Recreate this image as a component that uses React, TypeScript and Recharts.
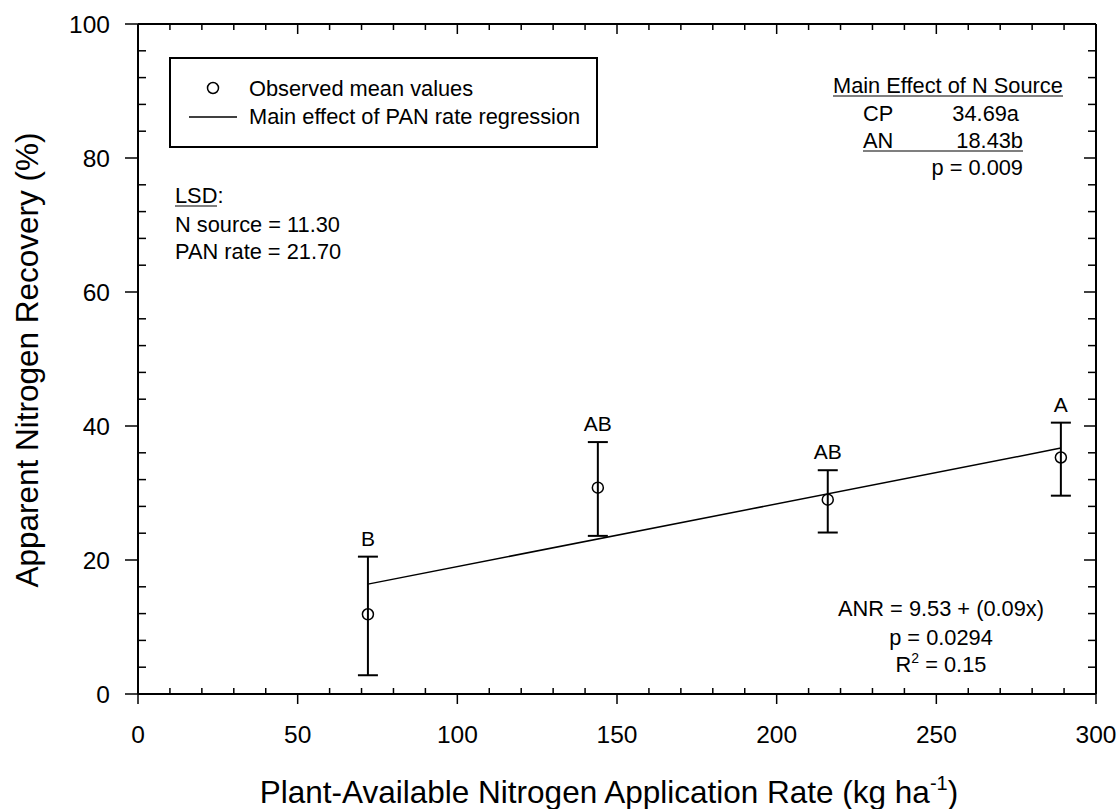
import React from "react";
import { ComposedChart, Scatter, ErrorBar, XAxis, YAxis, Label } from "recharts";

// PAN rate treatments and observed ANR (%) with error bar ends
const rates = [72, 144, 216, 289];
const meanANR = [11.9, 30.8, 29.0, 35.3];
const upperANR = [20.5, 37.6, 33.4, 40.5];
const lowerANR = [2.8, 23.6, 24.1, 29.6];
const groupLetters = ["B", "AB", "AB", "A"];

// fitted main effect of PAN rate, drawn over the tested range
const regRates = [72, 289];
const regANR = [16.4, 36.7];

const xTicks = [
  0, 10, 20, 30, 40, 50, 60, 70, 80, 90, 100, 110, 120, 130, 140, 150, 160,
  170, 180, 190, 200, 210, 220, 230, 240, 250, 260, 270, 280, 290, 300,
];
const yTicks = [
  0, 4, 8, 12, 16, 20, 24, 28, 32, 36, 40, 44, 48, 52, 56, 60, 64, 68, 72, 76,
  80, 84, 88, 92, 96, 100,
];

const FONT = "'Liberation Sans', Arial, sans-serif";

const meanData = rates.map((x, i) => ({
  x,
  y: meanANR[i],
  err: [meanANR[i] - lowerANR[i], upperANR[i] - meanANR[i]],
}));
const letterData = rates.map((x, i) => ({
  x,
  y: upperANR[i],
  letter: groupLetters[i],
}));
const regData = regRates.map((x, i) => ({ x, y: regANR[i] }));

const BottomTick = ({ x, y, payload }: any) => {
  const major = payload.value % 50 === 0;
  return (
    <g>
      <line x1={x} x2={x} y1={y} y2={major ? y + 10 : y - 6} stroke="#000" strokeWidth={1.5} />
      {major && (
        <text x={x} y={y + 49} textAnchor="middle" fontSize={24.5} fontFamily={FONT} fill="#000">
          {payload.value}
        </text>
      )}
    </g>
  );
};

const LeftTick = ({ x, y, payload }: any) => {
  const major = payload.value % 20 === 0;
  return (
    <g>
      <line x1={major ? x - 13 : x} x2={major ? x : x + 8} y1={y} y2={y} stroke="#000" strokeWidth={1.5} />
      {major && (
        <text x={x - 28} y={y + 8.5} textAnchor="end" fontSize={24.5} fontFamily={FONT} fill="#000">
          {payload.value}
        </text>
      )}
    </g>
  );
};

// frame ticks on top and right point into the plot
const TopTick = ({ x, y, payload }: any) => {
  const len = payload.value % 50 === 0 ? 10 : 6;
  return <line x1={x} x2={x} y1={y} y2={y + len} stroke="#000" strokeWidth={1.5} />;
};

const RightTick = ({ x, y, payload }: any) => {
  const len = payload.value % 20 === 0 ? 12 : 8;
  return <line x1={x - len} x2={x} y1={y} y2={y} stroke="#000" strokeWidth={1.5} />;
};

const OpenCircle = ({ cx, cy }: any) => (
  <circle cx={cx} cy={cy} r={5.5} fill="none" stroke="#000" strokeWidth={1.5} />
);

const LetterMark = ({ cx, cy, payload }: any) => (
  <text x={cx} y={cy - 11} textAnchor="middle" fontSize={21} fontFamily={FONT} fill="#000">
    {payload.letter}
  </text>
);

const XTitle = ({ viewBox }: any) => {
  const cx = viewBox.x + viewBox.width / 2 - 8;
  const by = viewBox.y + 109;
  return (
    <text x={cx} y={by} textAnchor="middle" fontSize={31.5} fontFamily={FONT} fill="#000">
      Plant-Available Nitrogen Application Rate (kg ha
      <tspan fontSize={20} dy={-13}>-1</tspan>
      <tspan dy={13}>)</tspan>
    </text>
  );
};

const YTitle = ({ viewBox }: any) => {
  const x0 = 38;
  const y0 = viewBox.y + viewBox.height / 2 + 1;
  return (
    <text
      x={x0}
      y={y0}
      transform={`rotate(-90, ${x0}, ${y0})`}
      textAnchor="middle"
      fontSize={31.5}
      fontFamily={FONT}
      fill="#000"
    >
      Apparent Nitrogen Recovery (%)
    </text>
  );
};

const axisLine = { stroke: "#000", strokeWidth: 2 };

// legend box and statistics text sitting over the plot
const Notes = () => (
  <svg
    width={1120}
    height={809}
    style={{ position: "absolute", left: 0, top: 0, pointerEvents: "none" }}
    fontFamily={FONT}
    fontSize={21.8}
  >
    <rect x={170} y={58} width={427} height={89} fill="none" stroke="#000" strokeWidth={2} />
    <circle cx={213} cy={88} r={5.5} fill="none" stroke="#000" strokeWidth={1.5} />
    <text x={249} y={96}>Observed mean values</text>
    <line x1={189} x2={237} y1={117} y2={117} stroke="#000" strokeWidth={1.5} />
    <text x={249} y={124}>Main effect of PAN rate regression</text>

    <text x={175} y={203}>LSD:</text>
    <line x1={175} x2={217} y1={206} y2={206} stroke="#000" strokeWidth={1.2} />
    <text x={175} y={232}>N source = 11.30</text>
    <text x={175} y={259}>PAN rate = 21.70</text>

    <text x={833} y={93}>Main Effect of N Source</text>
    <line x1={833} x2={1063} y1={96} y2={96} stroke="#000" strokeWidth={1.2} />
    <text x={863} y={121}>CP</text>
    <text x={1019} y={121} textAnchor="end">34.69a</text>
    <text x={863} y={148}>AN</text>
    <text x={1023} y={148} textAnchor="end">18.43b</text>
    <line x1={863} x2={1023} y1={151} y2={151} stroke="#000" strokeWidth={1.2} />
    <text x={1023} y={175} textAnchor="end">p = 0.009</text>

    <text x={941} y={616} textAnchor="middle">ANR = 9.53 + (0.09x)</text>
    <text x={941} y={645} textAnchor="middle">p = 0.0294</text>
    <text x={941} y={672} textAnchor="middle">
      R<tspan fontSize={14} dy={-9}>2</tspan>
      <tspan dy={9}> = 0.15</tspan>
    </text>
  </svg>
);

export default function App() {
  return (
    <div style={{ position: "absolute", left: 0, top: 0, width: 1120, height: 809, background: "#fff" }}>
      <ComposedChart width={1120} height={809} margin={{ top: 23, right: 23, bottom: 0, left: 0 }}>
        <XAxis
          type="number"
          dataKey="x"
          domain={[0, 300]}
          ticks={xTicks}
          interval={0}
          tick={<BottomTick />}
          tickLine={false}
          tickSize={0}
          tickMargin={0}
          height={115}
          axisLine={axisLine}
        >
          <Label content={<XTitle />} />
        </XAxis>
        <XAxis
          xAxisId="top"
          orientation="top"
          type="number"
          dataKey="x"
          domain={[0, 300]}
          ticks={xTicks}
          interval={0}
          tick={<TopTick />}
          tickLine={false}
          tickSize={0}
          tickMargin={0}
          height={1}
          axisLine={axisLine}
        />
        <YAxis
          type="number"
          dataKey="y"
          domain={[0, 100]}
          ticks={yTicks}
          interval={0}
          tick={<LeftTick />}
          tickLine={false}
          tickSize={0}
          tickMargin={0}
          width={138}
          axisLine={axisLine}
        >
          <Label content={<YTitle />} />
        </YAxis>
        <YAxis
          yAxisId="right"
          orientation="right"
          type="number"
          dataKey="y"
          domain={[0, 100]}
          ticks={yTicks}
          interval={0}
          tick={<RightTick />}
          tickLine={false}
          tickSize={0}
          tickMargin={0}
          width={1}
          axisLine={axisLine}
        />
        {/* regression line uses the frame axes, which share the same scales */}
        <Scatter
          xAxisId="top"
          yAxisId="right"
          data={regData}
          line={{ stroke: "#000", strokeWidth: 1.5 }}
          shape={() => <g />}
          isAnimationActive={false}
        />
        <Scatter data={meanData} shape={<OpenCircle />} isAnimationActive={false}>
          <ErrorBar dataKey="err" direction="y" width={10} stroke="#000" strokeWidth={2} />
        </Scatter>
        <Scatter data={letterData} shape={<LetterMark />} isAnimationActive={false} />
      </ComposedChart>
      <Notes />
    </div>
  );
}
